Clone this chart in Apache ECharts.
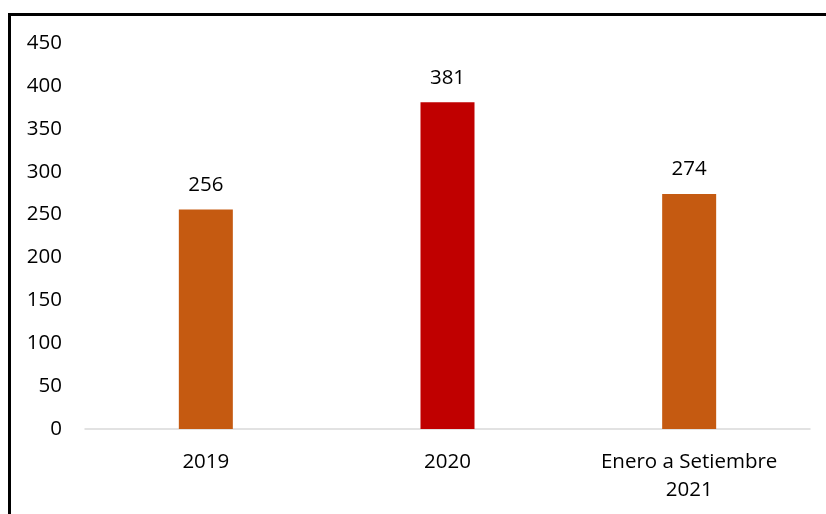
<!DOCTYPE html>
<html><head><meta charset="utf-8">
<script src="https://cdn.jsdelivr.net/npm/echarts@6/dist/echarts.min.js"></script>
<style>
html,body{margin:0;padding:0;background:#fff;overflow:hidden;}
#frame{position:absolute;left:8px;top:13px;width:900px;height:600px;border:3px solid #000;box-sizing:border-box;}
#chart{position:absolute;left:0;top:0;width:826px;height:514px;}
</style></head>
<body>
<div id="frame"></div>
<div id="chart"></div>
<script>
const categories = ['2019', '2020', 'Enero a Setiembre\n2021'];
const values = [256, 381, 274];
const barColors = ['#C55A11', '#C00000', '#C55A11'];
const yTicks = {min: 0, max: 450, interval: 50};

const chart = echarts.init(document.getElementById('chart'));
const font = '"Open Sans", sans-serif';
chart.setOption({
  animation: false,
  grid: {left: 85, right: 16, top: 43, bottom: 85, containLabel: false},
  xAxis: {
    type: 'category', data: categories,
    axisLine: {lineStyle: {color: '#D9D9D9', width: 1.5}},
    axisTick: {show: false},
    axisLabel: {color: '#000', fontSize: 20.5, fontFamily: font, margin: 19, lineHeight: 28}
  },
  yAxis: {
    type: 'value', min: yTicks.min, max: yTicks.max, interval: yTicks.interval,
    axisLine: {show: false}, axisTick: {show: false}, splitLine: {show: false},
    axisLabel: {color: '#000', fontSize: 20.5, fontFamily: font, margin: 23}
  },
  series: [{
    type: 'bar', barWidth: 54,
    data: values.map((v, i) => ({value: v, itemStyle: {color: barColors[i]}})),
    label: {show: true, position: 'top', distance: 14, color: '#000', fontSize: 20.5, fontFamily: font}
  }]
});
</script>
</body></html>
